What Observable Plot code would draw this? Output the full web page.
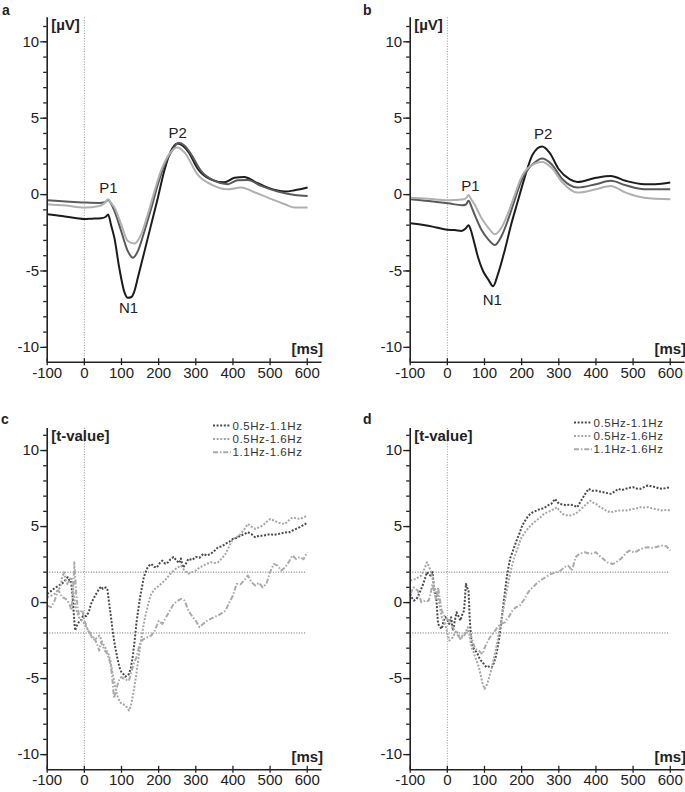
<!DOCTYPE html>
<html>
<head>
<meta charset="utf-8">
<script src="https://cdn.jsdelivr.net/npm/d3@7"></script>
<script src="https://cdn.jsdelivr.net/npm/@observablehq/plot@0.6"></script>
<style>
  html, body { margin: 0; padding: 0; background: #fff; }
  #root { position: relative; width: 685px; height: 792px; overflow: hidden; font-family: "Liberation Sans", Arial, sans-serif; color: #222; }
  .panel { position: absolute; }
  .letter { position: absolute; font-weight: bold; font-size: 14px; line-height: 1; }
</style>
</head>
<body>
<div id="root"></div>
<script>
// ---------- data ----------
const xTicks = [-100, 0, 100, 200, 300, 400, 500, 600];
const yTicks = [-10, -5, 0, 5, 10];
const yMinorTicks = d3.range(-10, 12, 1);
const erpLabel = "[µV]";
const tLabel = "[t-value]";
const msLabel = "[ms]";
const legendNames = ["0.5Hz-1.1Hz", "0.5Hz-1.6Hz", "1.1Hz-1.6Hz"];

// panel a ERP (time ms, amplitude µV)
const aBlack = [[-100,-1.28],[-60,-1.4],[-20,-1.55],[0,-1.6],[20,-1.58],[45,-1.55],[58,-1.45],[64,-1.3],[72,-2.0],[81,-2.85],[94,-4.8],[108,-6.4],[117,-6.75],[127,-6.7],[135,-6.3],[144,-5.45],[162,-3.7],[180,-1.95],[198,-0.2],[215,1.55],[232,2.8],[251,3.35],[265,3.2],[280,2.8],[305,1.7],[340,1.0],[377,0.8],[404,1.1],[431,1.15],[458,0.85],[494,0.45],[540,0.2],[566,0.28],[601,0.46]];
const aDark = [[-100,-0.37],[-50,-0.45],[0,-0.52],[40,-0.55],[55,-0.5],[64,-0.35],[72,-0.6],[81,-1.07],[99,-2.38],[117,-3.7],[131,-4.13],[144,-3.7],[162,-2.38],[180,-0.9],[198,0.68],[215,1.9],[233,2.75],[254,3.4],[270,3.2],[287,2.65],[314,1.55],[350,0.9],[386,0.68],[413,0.94],[440,0.96],[476,0.57],[521,0.2],[566,-0.02],[601,-0.09]];
const aLight = [[-100,-0.63],[-50,-0.72],[0,-0.85],[40,-0.75],[55,-0.55],[64,-0.3],[72,-0.55],[81,-0.85],[99,-1.94],[117,-3.04],[135,-3.2],[153,-2.6],[171,-1.29],[189,0.24],[207,1.6],[230,2.7],[250,3.08],[270,2.75],[305,1.3],[345,0.62],[385,0.35],[422,0.46],[458,0.15],[494,-0.2],[540,-0.63],[566,-0.85],[601,-0.85]];
const aPeaks = [{label:"P1", t:65, v:0.4}, {label:"N1", t:119, v:-7.46}, {label:"P2", t:251, v:4.05}];

// panel b ERP
const bBlack = [[-100,-1.88],[-60,-2.0],[-30,-2.15],[0,-2.3],[20,-2.32],[38,-2.38],[50,-2.2],[57,-2.0],[63,-2.3],[69,-2.82],[83,-4.13],[96,-5.0],[110,-5.55],[123,-6.0],[136,-5.22],[154,-3.69],[172,-1.94],[190,-0.41],[208,1.11],[230,2.64],[255,3.15],[275,2.75],[300,1.66],[330,1.0],[350,0.83],[400,1.1],[440,1.22],[480,0.9],[530,0.68],[560,0.68],[600,0.79]];
const bDark = [[-100,-0.3],[-50,-0.42],[2,-0.57],[40,-0.7],[50,-0.65],[57,-0.41],[65,-0.8],[73,-1.29],[91,-2.27],[110,-2.93],[128,-3.3],[146,-2.71],[164,-1.61],[182,-0.3],[199,0.9],[215,1.6],[235,2.1],[255,2.36],[280,2.0],[310,1.0],[350,0.46],[400,0.68],[440,0.9],[480,0.61],[530,0.35],[600,0.35]];
const bLight = [[-100,-0.2],[-50,-0.28],[2,-0.37],[45,-0.3],[52,-0.2],[57,-0.02],[64,-0.3],[73,-0.63],[91,-1.5],[110,-2.16],[128,-2.6],[146,-2.16],[164,-1.18],[182,0.02],[199,1.11],[220,1.8],[255,2.14],[280,1.77],[310,0.79],[350,0.13],[400,0.35],[440,0.57],[480,0.13],[530,-0.2],[600,-0.3]];
const bPeaks = [{label:"P1", t:62, v:0.54}, {label:"N1", t:121, v:-6.9}, {label:"P2", t:258, v:3.98}];

// panel c t-values
const cS1 = [[-100,0.57],[-90,0.75],[-80,0.95],[-70,1.1],[-60,1.25],[-50,1.5],[-45,1.67],[-40,1.45],[-36,1.45],[-32,0.5],[-29,-0.53],[-25,-1.84],[-20,-1.5],[-15,-1.3],[-9,-1.18],[-4,-0.9],[0,-0.86],[5,-0.9],[10,-0.7],[13,-0.53],[18,-0.1],[22,0.13],[30,0.5],[40,0.9],[45,1.05],[50,0.9],[58,1.0],[62,0.85],[67,-0.09],[72,-1.0],[76,-1.84],[82,-2.8],[90,-3.8],[95,-4.3],[100,-4.58],[105,-4.7],[110,-4.87],[115,-4.8],[120,-4.7],[125,-4.3],[130,-3.6],[135,-2.6],[140,-1.4],[145,-0.5],[150,0.35],[155,1.0],[160,1.67],[165,2.0],[170,2.3],[175,2.45],[180,2.54],[188,2.35],[195,2.3],[203,2.6],[210,2.76],[218,2.55],[225,2.65],[232,2.85],[240,3.0],[247,2.8],[255,2.6],[260,2.9],[265,2.3],[272,2.5],[280,2.87],[290,2.8],[300,3.0],[310,2.95],[320,3.2],[330,3.1],[340,3.2],[350,3.4],[360,3.64],[370,3.7],[380,3.86],[390,4.0],[400,4.19],[410,4.25],[420,4.4],[430,4.5],[440,4.63],[450,4.5],[460,4.3],[470,4.4],[480,4.4],[490,4.45],[500,4.5],[510,4.45],[520,4.5],[530,4.55],[540,4.63],[550,4.6],[560,4.74],[570,4.85],[580,4.96],[590,5.1],[600,5.24]];
const cS2 = [[-100,0.35],[-90,0.45],[-80,0.57],[-72,0.8],[-65,1.0],[-60,1.6],[-55,2.0],[-50,1.5],[-45,1.2],[-40,1.5],[-35,1.67],[-30,0.8],[-25,-0.1],[-20,-0.6],[-15,-0.96],[-10,-1.1],[-5,-1.2],[0,-1.4],[5,-1.6],[10,-1.84],[15,-2.0],[20,-2.28],[25,-2.3],[30,-2.4],[35,-2.3],[40,-2.17],[45,-2.4],[50,-2.7],[55,-2.9],[60,-3.16],[65,-3.4],[70,-3.8],[75,-4.5],[80,-5.13],[85,-5.8],[90,-6.2],[95,-6.5],[100,-6.67],[105,-6.7],[110,-6.78],[115,-6.9],[120,-7.1],[125,-6.8],[130,-6.2],[135,-5.5],[140,-4.7],[145,-3.8],[150,-2.94],[155,-2.1],[160,-1.4],[165,-0.8],[170,-0.3],[175,0.2],[180,0.57],[190,0.9],[200,1.1],[210,1.3],[220,1.55],[230,1.85],[240,2.1],[250,2.3],[260,2.43],[270,2.1],[280,1.9],[290,2.0],[300,2.1],[310,2.3],[320,2.43],[330,2.55],[340,2.65],[350,2.6],[360,2.65],[370,2.9],[380,3.2],[390,3.7],[400,4.19],[410,4.3],[420,4.5],[430,4.8],[440,5.17],[450,5.0],[460,4.85],[470,4.95],[480,5.06],[490,5.3],[500,5.5],[510,5.4],[520,5.28],[530,5.2],[540,5.17],[550,5.4],[560,5.6],[570,5.55],[580,5.5],[590,5.6],[600,5.72]];
const cS3 = [[-100,-0.2],[-95,-0.25],[-90,-0.3],[-85,-0.1],[-80,0.13],[-75,0.5],[-70,0.8],[-65,0.6],[-60,0.35],[-55,0.3],[-50,0.24],[-45,0.1],[-40,-0.1],[-35,-0.5],[-32,0.2],[-30,0.8],[-27,2.65],[-24,1.5],[-22,0.57],[-18,-0.3],[-15,-0.75],[-10,-0.6],[-5,-0.5],[0,-1.2],[5,-1.5],[10,-1.84],[15,-2.0],[20,-2.28],[25,-2.4],[30,-2.5],[35,-2.8],[40,-3.16],[45,-2.6],[50,-2.9],[55,-3.16],[60,-3.3],[65,-3.6],[70,-4.0],[75,-4.9],[78,-5.8],[80,-6.3],[85,-5.8],[90,-5.35],[95,-5.0],[100,-4.9],[105,-5.0],[110,-5.0],[115,-5.1],[120,-5.13],[125,-4.7],[130,-4.25],[135,-3.9],[140,-3.6],[145,-3.1],[150,-2.7],[155,-2.5],[160,-2.4],[170,-2.28],[180,-2.17],[190,-1.84],[200,-1.2],[210,-1.4],[220,-0.96],[230,-0.53],[240,-0.1],[250,0.1],[260,0.24],[270,0.13],[280,-0.53],[290,-0.9],[300,-1.2],[310,-1.62],[320,-1.4],[330,-1.2],[340,-1.07],[350,-0.95],[360,-0.85],[370,-0.7],[380,-0.53],[390,0.0],[400,0.46],[410,1.23],[420,1.2],[430,1.45],[440,1.78],[450,1.34],[460,1.12],[470,1.3],[480,1.0],[490,1.23],[500,2.0],[510,2.54],[520,2.43],[530,2.1],[540,2.3],[550,2.65],[560,3.1],[570,2.87],[580,3.0],[590,2.85],[600,3.3]];

// panel d t-values
const dS1 = [[-100,0.57],[-95,0.3],[-90,0.13],[-85,0.2],[-80,0.35],[-72,0.8],[-65,1.23],[-60,1.6],[-55,2.0],[-50,1.85],[-45,1.78],[-40,2.0],[-35,0.8],[-30,0.35],[-25,-1.4],[-20,-1.6],[-15,-1.73],[-10,-1.2],[-5,-0.96],[0,-1.1],[5,-1.4],[10,-0.96],[15,-1.84],[20,-1.2],[25,-0.64],[30,-0.9],[35,-1.18],[40,-0.8],[45,-0.53],[50,1.23],[53,1.0],[57,0.8],[60,-0.96],[65,-2.7],[70,-3.0],[75,-3.16],[80,-3.3],[85,-3.6],[90,-3.8],[95,-3.93],[100,-4.1],[105,-4.25],[110,-4.2],[115,-4.25],[120,-4.25],[125,-4.0],[130,-3.6],[135,-3.0],[140,-2.28],[145,-1.3],[150,-0.3],[155,0.7],[160,1.67],[165,2.4],[170,2.98],[175,3.3],[180,3.64],[185,4.0],[190,4.3],[195,4.6],[200,4.96],[207,5.3],[215,5.6],[222,5.8],[230,5.94],[240,6.05],[250,6.16],[260,6.2],[270,6.38],[280,6.5],[290,6.82],[300,6.5],[310,6.45],[320,6.4],[330,6.45],[340,6.4],[350,6.27],[360,6.7],[370,7.1],[380,7.48],[390,7.35],[400,7.37],[410,7.3],[420,7.26],[430,7.2],[440,7.15],[450,7.3],[460,7.48],[470,7.4],[480,7.48],[490,7.55],[500,7.59],[510,7.5],[520,7.48],[530,7.6],[540,7.7],[550,7.65],[560,7.6],[570,7.5],[580,7.48],[590,7.55],[600,7.59]];
const dS2 = [[-100,1.45],[-92,1.5],[-85,1.56],[-78,1.65],[-70,1.78],[-62,2.2],[-55,2.65],[-50,2.4],[-45,2.1],[-40,1.6],[-35,1.0],[-30,0.7],[-25,0.46],[-20,-0.3],[-15,-0.96],[-10,-1.2],[-5,-1.5],[0,-2.0],[5,-2.5],[10,-2.4],[15,-2.28],[20,-2.0],[25,-1.84],[30,-2.1],[35,-2.4],[40,-2.2],[45,-2.06],[50,-1.9],[55,-1.62],[60,-2.2],[65,-2.94],[70,-3.2],[75,-3.6],[80,-3.9],[85,-4.25],[90,-4.8],[95,-5.35],[100,-5.68],[105,-5.5],[110,-5.13],[115,-4.7],[120,-4.25],[125,-3.7],[130,-3.16],[135,-2.5],[140,-1.84],[145,-1.2],[150,-0.53],[155,0.1],[160,0.8],[165,1.4],[170,2.0],[175,2.5],[180,2.98],[185,3.3],[190,3.64],[195,4.0],[200,4.3],[210,4.65],[220,4.96],[230,5.2],[240,5.4],[250,5.6],[260,5.83],[270,5.95],[280,6.05],[290,6.2],[295,6.27],[300,6.1],[310,5.83],[320,5.75],[330,5.72],[340,5.8],[350,5.94],[360,6.15],[370,6.38],[380,6.6],[385,6.7],[390,6.6],[400,6.5],[410,6.3],[420,6.16],[430,6.0],[440,5.94],[450,6.0],[460,6.05],[470,6.05],[480,6.05],[490,6.1],[500,6.16],[510,6.2],[520,6.27],[530,6.25],[540,6.27],[550,6.2],[560,6.16],[570,6.1],[580,6.05],[590,6.1],[600,6.05]];
const dS3 = [[-100,0.57],[-95,0.8],[-90,1.0],[-85,0.9],[-80,0.8],[-75,0.4],[-70,0.02],[-65,0.05],[-60,0.13],[-55,0.1],[-50,0.13],[-45,0.6],[-40,1.23],[-35,0.7],[-30,0.13],[-25,1.0],[-20,0.2],[-15,-0.53],[-10,-0.8],[-5,-0.96],[0,-1.1],[5,-1.18],[10,-1.4],[15,-1.62],[20,-1.85],[25,-2.06],[30,-2.2],[35,-2.4],[40,-2.3],[45,-2.17],[50,-2.0],[55,-1.84],[60,-2.0],[65,-2.28],[70,-2.7],[75,-3.05],[80,-3.1],[85,-3.16],[90,-3.3],[95,-3.38],[100,-3.0],[105,-2.72],[110,-2.5],[115,-2.28],[120,-2.1],[125,-1.95],[130,-1.8],[135,-1.62],[140,-1.5],[145,-1.4],[150,-1.35],[155,-1.3],[160,-1.1],[165,-0.96],[170,-0.75],[175,-0.53],[180,-0.4],[185,-0.3],[190,-0.25],[195,-0.2],[200,0.0],[205,0.13],[210,0.35],[215,0.57],[220,0.75],[225,0.9],[230,1.0],[235,1.12],[240,1.25],[250,1.45],[260,1.6],[265,1.67],[270,1.75],[280,1.9],[290,1.95],[295,2.0],[305,2.1],[315,2.33],[325,2.43],[330,2.3],[335,2.1],[340,2.5],[345,2.98],[355,3.2],[370,3.31],[385,3.2],[400,3.31],[408,3.1],[415,2.98],[423,2.8],[430,2.65],[438,2.6],[445,2.54],[452,2.6],[460,2.76],[468,2.9],[475,3.1],[483,3.3],[490,3.42],[497,3.35],[505,3.31],[512,3.4],[520,3.53],[530,3.6],[540,3.64],[550,3.6],[560,3.64],[570,3.7],[580,3.75],[590,3.7],[600,3.42]];
const tThresholds = [2, -2];

// ---------- styles ----------
const FONT = "'Liberation Sans', Arial, Helvetica, sans-serif";
const erpStyles = [
  {stroke: "#1c1c1c"},
  {stroke: "#5a5a5a"},
  {stroke: "#b0b0b0"}
];
const tStyles = [
  {stroke: "#4a4a4a", dash: "2,1.6"},
  {stroke: "#a6a6a6", dash: "2,1.6"},
  {stroke: "#ababab", dash: "5,1.8,1.6,1.8"}
];

function makePanel({series, styles, curve, ylabel, peaks, thresholds, height, marginTop, marginBottom, ydomain}) {
  const X0 = -100, X1 = 640;
  const marks = [
    Plot.ruleX([0], {stroke: "#8a8a8a", strokeWidth: 0.9, strokeDasharray: "1,1.6"})
  ];
  if (thresholds) {
    marks.push(Plot.ruleY(thresholds, {x1: -100, x2: 600, stroke: "#555", strokeWidth: 0.9, strokeDasharray: "1,1.6"}));
  }
  series.forEach((s, i) => {
    marks.push(Plot.line(s, {
      x: d => d[0], y: d => d[1], curve,
      stroke: styles[i].stroke, strokeWidth: 2,
      strokeDasharray: styles[i].dash || null,
      strokeLinecap: "butt"
    }));
  });
  if (peaks) {
    marks.push(Plot.text(peaks, {x: "t", y: "v", text: "label", fontSize: 15, fill: "#222"}));
  }
  marks.push(
    Plot.ruleX([X0], {stroke: "#222", strokeWidth: 1.6}),
    Plot.ruleY([ydomain[0]], {stroke: "#222", strokeWidth: 1.6}),
    Plot.axisY({ticks: yMinorTicks, tickSize: 3.5, tickFormat: () => "", label: null, stroke: "#222", strokeWidth: 1.3}),
    Plot.axisY({ticks: yTicks, tickSize: 6.5, tickPadding: 1.5, tickFormat: d => String(d), label: null, fontSize: 15, stroke: "#222", strokeWidth: 1.3, fill: "#222"}),
    Plot.axisX({ticks: xTicks, tickSize: 7, dy: -3.5, tickFormat: () => "", label: null, stroke: "#222", strokeWidth: 1.3}),
    Plot.axisX({ticks: xTicks, tickSize: 0, tickPadding: 5, tickFormat: d => String(d), label: null, fontSize: 15, fill: "#222"}),
    Plot.text([ylabel], {text: d => d, frameAnchor: "top-left", dx: 4, dy: 2, lineAnchor: "top", textAnchor: "start", fontWeight: "bold", fontSize: 15, fill: "#222"}),
    Plot.text([msLabel], {text: d => d, frameAnchor: "bottom-right", dx: 1, dy: -8, lineAnchor: "bottom", textAnchor: "end", fontWeight: "bold", fontSize: 15, fill: "#222"})
  );
  return Plot.plot({
    width: 322,
    height,
    marginLeft: 46.7,
    marginRight: 0.4,
    marginTop,
    marginBottom,
    style: {fontFamily: FONT, fontSize: "15px", color: "#222", background: "transparent", overflow: "visible"},
    x: {domain: [X0, X1]},
    y: {domain: ydomain},
    marks
  });
}

function addLegend(root, left, top) {
  const svg = d3.select(root).append("svg")
    .attr("class", "panel")
    .style("left", left + "px").style("top", top + "px")
    .attr("width", 100).attr("height", 46);
  legendNames.forEach((name, i) => {
    const y = 6.5 + i * 13.4;
    svg.append("line")
      .attr("x1", 0).attr("x2", 18).attr("y1", y).attr("y2", y)
      .attr("stroke", tStyles[i].stroke).attr("stroke-width", 2)
      .attr("stroke-dasharray", tStyles[i].dash);
    svg.append("text")
      .attr("x", 19.5).attr("y", y).attr("dy", "0.36em")
      .attr("font-family", FONT).attr("font-size", 11.5)
      .attr("letter-spacing", "0.55px").attr("fill", "#333")
      .text(name);
  });
}

const root = document.getElementById("root");
function place(node, left, top) {
  const div = document.createElement("div");
  div.className = "panel";
  div.style.left = left + "px";
  div.style.top = top + "px";
  div.appendChild(node);
  root.appendChild(div);
}
function letter(ch, left, top) {
  const d = document.createElement("div");
  d.className = "letter";
  d.style.left = left + "px";
  d.style.top = top + "px";
  d.textContent = ch;
  root.appendChild(d);
}

const topOpts = {styles: erpStyles, curve: "monotone-x", ylabel: erpLabel, height: 386, marginTop: 17.3, marginBottom: 24.3, ydomain: [-10.97, 11.57]};
const botOpts = {styles: tStyles, curve: "linear", ylabel: tLabel, thresholds: tThresholds, height: 404, marginTop: 40, marginBottom: 22.7, ydomain: [-11, 11.45]};

place(makePanel({...topOpts, series: [aBlack, aDark, aLight], peaks: aPeaks}), 0, 0);
place(makePanel({...topOpts, series: [bBlack, bDark, bLight], peaks: bPeaks}), 362.6, 0);
place(makePanel({...botOpts, series: [cS1, cS2, cS3]}), 0, 388);
place(makePanel({...botOpts, series: [dS1, dS2, dS3]}), 362.6, 388);

addLegend(root, 213, 418.5);
addLegend(root, 573.5, 415.5);

letter("a", 2, 3);
letter("b", 363, 3);
letter("c", 1, 412);
letter("d", 363, 412);
</script>
</body>
</html>
